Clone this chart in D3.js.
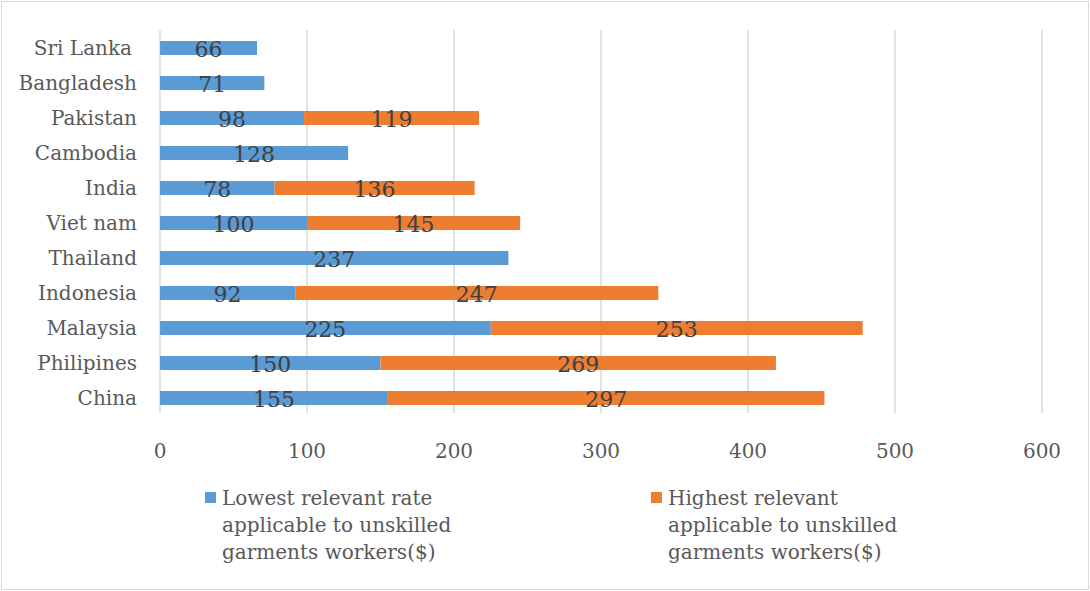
<!DOCTYPE html>
<html>
<head>
<meta charset="utf-8">
<script src="https://cdn.jsdelivr.net/npm/d3@7"></script>
<style>
  body { margin: 0; background: #fff; }
  svg text { font-family: "DejaVu Serif", serif; }
</style>
</head>
<body>
<svg id="chart"></svg>
<script>
// data, top row first
var countries = ['Sri Lanka', 'Bangladesh', 'Pakistan', 'Cambodia', 'India', 'Viet nam',
  'Thailand', 'Indonesia', 'Malaysia', 'Philipines', 'China'];
var lowest = [66, 71, 98, 128, 78, 100, 237, 92, 225, 150, 155];
var highest = [0, 0, 119, 0, 136, 145, 0, 247, 253, 269, 297];
var xTicks = [0, 100, 200, 300, 400, 500, 600];
var seriesNames = ['Lowest relevant rate applicable to unskilled garments workers($)',
  'Highest relevant applicable to unskilled garments workers($)'];
var legendLines = [
  ['Lowest relevant rate', 'applicable to unskilled', 'garments workers($)'],
  ['Highest relevant', 'applicable to unskilled', 'garments workers($)']
];
var colors = ['#5B9BD5', '#ED7D31'];

var W = 1090, H = 591;
var svg = d3.select('#chart').attr('width', W).attr('height', H);

// outer frame
svg.append('rect')
  .attr('x', 1.5).attr('y', 1.5)
  .attr('width', W - 3).attr('height', H - 3)
  .attr('fill', 'none').attr('stroke', '#d9d9d9').attr('stroke-width', 1);

var x = d3.scaleLinear().domain([0, 600]).range([160, 1042]);
var y = d3.scaleBand().domain(countries).range([30.5, 415.5]).paddingInner(0.6).paddingOuter(0.3);

// gridlines
svg.append('g').selectAll('line')
  .data(xTicks.slice(1))
  .enter().append('line')
  .attr('x1', function(d) { return x(d); })
  .attr('x2', function(d) { return x(d); })
  .attr('y1', 30).attr('y2', 413)
  .attr('stroke', '#d9d9d9').attr('stroke-width', 1.5);

// axis line at 0
svg.append('line')
  .attr('x1', x(0)).attr('x2', x(0))
  .attr('y1', 30).attr('y2', 413)
  .attr('stroke', '#d9d9d9').attr('stroke-width', 1.5);

// x tick labels
svg.append('g').selectAll('text')
  .data(xTicks)
  .enter().append('text')
  .attr('x', function(d) { return x(d); })
  .attr('y', 458)
  .attr('text-anchor', 'middle')
  .style('font-size', '20px')
  .attr('fill', '#595959')
  .text(function(d) { return d; });

// category labels
svg.append('g').selectAll('text')
  .data(countries)
  .enter().append('text')
  .attr('x', function(d) { return d === 'Sri Lanka' ? 132 : 137; })
  .attr('y', function(d) { return y(d) + y.bandwidth() / 2 + 7; })
  .attr('text-anchor', 'end')
  .style('font-size', '20px')
  .attr('fill', '#595959')
  .text(function(d) { return d; });

var rows = countries.map(function(c, i) {
  return { name: c, lo: lowest[i], hi: highest[i] };
});

var bars = svg.append('g');
// lowest segment
bars.selectAll('rect.lo')
  .data(rows)
  .enter().append('rect')
  .attr('class', 'lo')
  .attr('x', x(0))
  .attr('y', function(d) { return y(d.name); })
  .attr('width', function(d) { return x(d.lo) - x(0); })
  .attr('height', y.bandwidth())
  .attr('fill', colors[0]);

// highest segment
bars.selectAll('rect.hi')
  .data(rows.filter(function(d) { return d.hi > 0; }))
  .enter().append('rect')
  .attr('class', 'hi')
  .attr('x', function(d) { return x(d.lo); })
  .attr('y', function(d) { return y(d.name); })
  .attr('width', function(d) { return x(d.lo + d.hi) - x(d.lo); })
  .attr('height', y.bandwidth())
  .attr('fill', colors[1]);

// value labels
var labels = svg.append('g');
labels.selectAll('text.lo')
  .data(rows)
  .enter().append('text')
  .attr('x', function(d) { return x(d.lo / 2); })
  .attr('y', function(d) { return y(d.name) + y.bandwidth() / 2 + 9; })
  .attr('text-anchor', 'middle')
  .style('font-size', '22px')
  .attr('fill', '#404040')
  .text(function(d) { return d.lo; });

labels.selectAll('text.hi')
  .data(rows.filter(function(d) { return d.hi > 0; }))
  .enter().append('text')
  .attr('x', function(d) { return x(d.lo + d.hi / 2); })
  .attr('y', function(d) { return y(d.name) + y.bandwidth() / 2 + 9; })
  .attr('text-anchor', 'middle')
  .style('font-size', '22px')
  .attr('fill', '#404040')
  .text(function(d) { return d.hi; });

// legend
var legendX = [205, 651];
var legend = svg.append('g');
seriesNames.forEach(function(name, i) {
  var g = legend.append('g').attr('transform', 'translate(' + legendX[i] + ',0)');
  g.append('rect')
    .attr('x', 0).attr('y', 492)
    .attr('width', 11).attr('height', 11)
    .attr('fill', colors[i]);
  g.append('title').text(name);
  g.selectAll('text')
    .data(legendLines[i])
    .enter().append('text')
    .attr('x', 17)
    .attr('y', function(d, j) { return 505 + j * 27; })
    .style('font-size', '20px')
    .attr('fill', '#595959')
    .text(function(d) { return d; });
});
</script>
</body>
</html>
